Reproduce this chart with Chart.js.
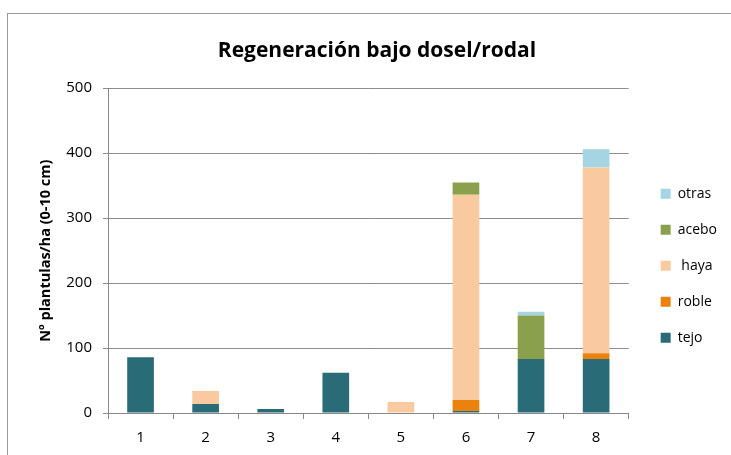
<!DOCTYPE html>
<html><head><meta charset="utf-8">
<script src="https://cdn.jsdelivr.net/npm/chart.js@4.4.1/dist/chart.umd.min.js"></script>
<style>html,body{margin:0;padding:0;background:#fff}#wrap{width:731px;height:455px}</style>
</head><body><div id="wrap"><canvas id="c" width="731" height="455"></canvas></div>
<script>
const categories = ['1','2','3','4','5','6','7','8'];
const tejo  = [86, 14, 6, 62, 0, 3, 83, 83];
const roble = [0, 0, 0, 0, 0, 17, 0, 9];
const haya  = [0, 20, 0, 0, 17, 316, 0, 286];
const acebo = [0, 0, 0, 0, 0, 19, 67, 0];
const otras = [0, 0, 0, 0, 0, 0, 6, 28];
const yTicks = [0, 100, 200, 300, 400, 500];

const FONT = '"Open Sans", Lato, sans-serif';
const frame = {
  id: 'frame',
  afterLayout(chart) {
    const lg = chart.legend;
    const dx = chart.chartArea.right + 10 - lg.left;
    lg.left += dx; lg.right += dx;
    const tb = chart.titleBlock;
    const w = tb.right - tb.left;
    tb.left = 377 - w / 2; tb.right = tb.left + w;
  },
  beforeDraw(chart) {
    const ctx = chart.ctx;
    ctx.save();
    ctx.fillStyle = '#fff';
    ctx.fillRect(0, 0, chart.width, chart.height);
    ctx.strokeStyle = '#9a9a9a';
    ctx.lineWidth = 1;
    ctx.strokeRect(7.5, 13.5, 900, 600);
    ctx.restore();
  }
};
const ds = (label, data, color) => ({label, data, backgroundColor: color, borderWidth: 0});
new Chart(document.getElementById('c'), {
  type: 'bar',
  data: {
    labels: categories,
    datasets: [
      ds('tejo', tejo, '#2A6B78'),
      ds('roble', roble, '#EC820E'),
      ds(' haya', haya, '#F9C9A0'),
      ds('acebo', acebo, '#8AA04C'),
      ds('otras', otras, '#A5D5E3')
    ]
  },
  options: {
    responsive: false,
    animation: false,
    layout: {padding: {left: 30, right: 14, top: 30, bottom: 5}},
    datasets: {bar: {barPercentage: 0.41, categoryPercentage: 1}},
    plugins: {
      title: {display: true, text: 'Regeneración bajo dosel/rodal', color: '#000',
        font: {family: FONT, size: 21, weight: 'bold'}, padding: {top: 8, bottom: 25}},
      legend: {position: 'right', reverse: true, fullSize: false,
        title: {display: true, text: ' ', padding: 8, font: {size: 12}},
        labels: {boxWidth: 10, boxHeight: 10, padding: 22, color: '#000',
          font: {family: FONT, size: 14}}},
      tooltip: {enabled: false}
    },
    scales: {
      x: {stacked: true,
        grid: {offset: true, drawOnChartArea: false, drawTicks: true, tickLength: 6, color: '#888'},
        border: {color: '#888'},
        ticks: {color: '#000', font: {family: FONT, size: 15}, padding: 10},
        afterFit: s => { s.height = 37; }
      },
      y: {stacked: true, min: 0, max: 500,
        afterBuildTicks: s => { s.ticks = yTicks.map(v => ({value: v})); },
        grid: {color: '#8c8c8c', tickLength: 5},
        border: {color: '#888'},
        ticks: {color: '#000', font: {family: FONT, size: 15}, padding: 11},
        title: {display: true, text: 'Nº plantulas/ha (0-10 cm)', color: '#000',
          font: {family: FONT, size: 14.5, weight: 'bold'}, padding: {top: 7, bottom: 4}},
        afterFit: s => { s.width = 78; }
      }
    }
  },
  plugins: [frame]
});
</script></body></html>
